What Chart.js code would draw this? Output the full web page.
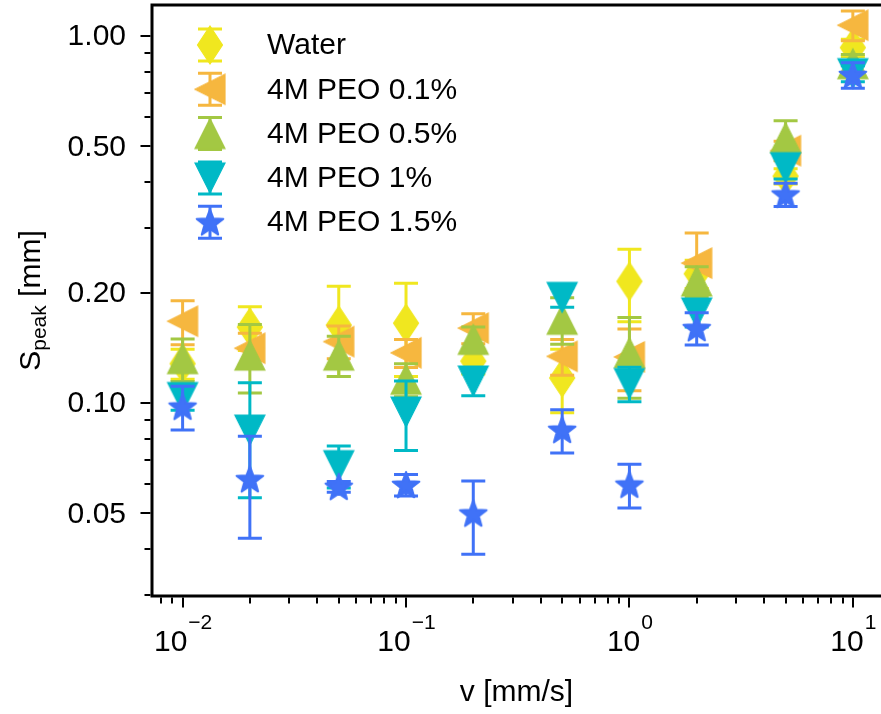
<!DOCTYPE html>
<html>
<head>
<meta charset="utf-8">
<script src="https://cdn.jsdelivr.net/npm/chart.js@4.4.1/dist/chart.umd.min.js"></script>
<style>
html,body{margin:0;padding:0;background:#ffffff;}
#wrap{width:881px;height:714px;position:relative;}
canvas{display:block;}
</style>
</head>
<body>
<div id="wrap"><canvas id="c" width="881" height="714"></canvas></div>
<script>
// ---------------- data ----------------
const velocity = [0.01, 0.02, 0.05, 0.1, 0.2, 0.5, 1, 2, 5, 10];
const seriesLabels = ['Water', '4M PEO 0.1%', '4M PEO 0.5%', '4M PEO 1%', '4M PEO 1.5%'];

const speakWater  = [0.128, 0.161, 0.163, 0.165, 0.130, 0.117, 0.2145, 0.225, 0.415, 0.930];
const errWater    = [0.012, 0.022, 0.045, 0.047, 0.010, 0.023, 0.048, 0.020, 0.020, 0.050];

const speakPeo01  = [0.167, 0.141, 0.147, 0.137, 0.160, 0.134, 0.1335, 0.2405, 0.487, 1.070];
const errPeo01    = [0.023, 0.014, 0.015, 0.012, 0.015, 0.015, 0.0255, 0.050, 0.030, 0.100];

const speakPeo05  = [0.132, 0.135, 0.135, 0.116, 0.149, 0.169, 0.137, 0.215, 0.528, 0.840];
const errPeo05    = [0.0175, 0.0285, 0.017, 0.012, 0.012, 0.0245, 0.034, 0.020, 0.060, 0.050];

const speakPeo1   = [0.1035, 0.0844, 0.0675, 0.0945, 0.1148, 0.194, 0.113, 0.176, 0.438, 0.790];
const errPeo1     = [0.008, 0.0292, 0.0088, 0.0203, 0.0101, 0.0117, 0.0122, 0.015, 0.030, 0.040];

const speakPeo15  = [0.0977, 0.062, 0.0591, 0.0598, 0.0500, 0.0845, 0.0599, 0.160, 0.370, 0.783];
const errPeo15    = [0.0133, 0.0192, 0.002, 0.004, 0.0113, 0.0114, 0.0082, 0.0162, 0.027, 0.063];

const yMajorTicks = [0.05, 0.1, 0.2, 0.5, 1];
const yTickLabels = ['0.05', '0.10', '0.20', '0.50', '1.00'];
const yMinorTicks = [0.03, 0.04, 0.06, 0.07, 0.08, 0.09, 0.3, 0.4, 0.6, 0.7, 0.8, 0.9];
const xMajorTicks = [0.01, 0.1, 1, 10];
const xTickExponents = ['\u22122', '\u22121', '0', '1'];
const xMinorTicks = [0.008, 0.009, 0.02, 0.03, 0.04, 0.05, 0.06, 0.07, 0.08, 0.09,
                     0.2, 0.3, 0.4, 0.5, 0.6, 0.7, 0.8, 0.9, 2, 3, 4, 5, 6, 7, 8, 9];
const xTitle = 'v [mm/s]';
const yTitleMain = 'S', yTitleSub = 'peak', yTitleUnit = ' [mm]';

// ---------------- styles ----------------
const colors = ['#F0E71F', '#F6B73F', '#A3C843', '#00B9C6', '#4072F7'];
const FONT = '"Liberation Sans", Arial, Helvetica, sans-serif';

function makeMarker(kind, color) {
  const c = document.createElement('canvas');
  c.width = 44; c.height = 44;
  const g = c.getContext('2d');
  g.translate(22, 22);
  g.fillStyle = color; g.strokeStyle = color; g.lineWidth = 1.2; g.lineJoin = 'miter';
  g.beginPath();
  if (kind === 'thinDiamond') {
    g.moveTo(0, -19); g.lineTo(12.5, 0); g.lineTo(0, 19); g.lineTo(-12.5, 0);
  } else if (kind === 'up') {
    g.moveTo(0, -15); g.lineTo(15, 15); g.lineTo(-15, 15);
  } else if (kind === 'down') {
    g.moveTo(0, 15); g.lineTo(15, -15); g.lineTo(-15, -15);
  } else if (kind === 'left') {
    g.moveTo(-15, 0); g.lineTo(15, -15); g.lineTo(15, 15);
  } else if (kind === 'star') {
    const R = 14, r = R * 0.42;
    for (let k = 0; k < 10; k++) {
      const rad = (k % 2 === 0) ? R : r;
      const a = -Math.PI / 2 + k * Math.PI / 5;
      const px = rad * Math.cos(a), py = rad * Math.sin(a) + 1;
      if (k === 0) g.moveTo(px, py); else g.lineTo(px, py);
    }
    g.lineJoin = 'round'; g.lineWidth = 2;
  }
  g.closePath(); g.fill(); g.stroke();
  return c;
}
const markerKinds = ['thinDiamond', 'left', 'up', 'down', 'star'];
const markers = markerKinds.map((k, i) => makeMarker(k, colors[i]));

const allY = [speakWater, speakPeo01, speakPeo05, speakPeo1, speakPeo15];
const allE = [errWater, errPeo01, errPeo05, errPeo1, errPeo15];

const datasets = seriesLabels.map((lab, i) => ({
  label: lab,
  data: velocity.map((v, j) => ({ x: v, y: allY[i][j], e: allE[i][j] })),
  pointStyle: markers[i],
  pointRadius: 14,
  backgroundColor: colors[i],
  borderColor: colors[i],
  showLine: false,
  order: seriesLabels.length - 1 - i
}));

// axis ranges (log), chosen to match the reference frame
const X_MIN = Math.pow(10, -2.137), X_MAX = Math.pow(10, 1.126);
const Y_MIN = Math.pow(10, -1.526), Y_MAX = Math.pow(10, 0.0845);

const CAP = 12, ELW = 3;

const errorBarPlugin = {
  id: 'errorBars',
  beforeDatasetDraw(chart, args) {
    const ds = chart.data.datasets[args.index];
    const xs = chart.scales.x, ys = chart.scales.y, ctx = chart.ctx;
    ctx.save();
    ctx.strokeStyle = ds.borderColor; ctx.lineWidth = ELW; ctx.lineCap = 'butt';
    ds.data.forEach(p => {
      const px = xs.getPixelForValue(p.x);
      const top = ys.getPixelForValue(p.y + p.e);
      const bot = ys.getPixelForValue(p.y - p.e);
      ctx.beginPath();
      ctx.moveTo(px, top); ctx.lineTo(px, bot);
      ctx.moveTo(px - CAP, top); ctx.lineTo(px + CAP, top);
      ctx.moveTo(px - CAP, bot); ctx.lineTo(px + CAP, bot);
      ctx.stroke();
    });
    ctx.restore();
  }
};

const axesPlugin = {
  id: 'axesFrame',
  afterDatasetsDraw(chart) {
    const ctx = chart.ctx, ca = chart.chartArea;
    const xs = chart.scales.x, ys = chart.scales.y;
    ctx.save();
    // spines
    ctx.strokeStyle = '#000'; ctx.lineWidth = 3; ctx.lineJoin = 'miter'; ctx.lineCap = 'butt';
    ctx.beginPath();
    ctx.moveTo(ca.right + 3, ca.top); ctx.lineTo(ca.left, ca.top);
    ctx.lineTo(ca.left, ca.bottom); ctx.lineTo(ca.right + 3, ca.bottom);
    ctx.stroke();
    // ticks
    ctx.lineWidth = 2;
    const MAJ = 10, MIN = 6;
    ctx.beginPath();
    yMajorTicks.forEach(v => { const y = Math.round(ys.getPixelForValue(v)); ctx.moveTo(ca.left - 1.5, y); ctx.lineTo(ca.left - 1.5 - MAJ, y); });
    yMinorTicks.forEach(v => { const y = Math.round(ys.getPixelForValue(v)); ctx.moveTo(ca.left - 1.5, y); ctx.lineTo(ca.left - 1.5 - MIN, y); });
    xMajorTicks.forEach(v => { const x = Math.round(xs.getPixelForValue(v)); ctx.moveTo(x, ca.bottom + 1.5); ctx.lineTo(x, ca.bottom + 1.5 + MAJ); });
    xMinorTicks.forEach(v => { const x = Math.round(xs.getPixelForValue(v)); ctx.moveTo(x, ca.bottom + 1.5); ctx.lineTo(x, ca.bottom + 1.5 + MIN); });
    ctx.stroke();
    // y tick labels
    ctx.fillStyle = '#000';
    ctx.font = '30px ' + FONT;
    ctx.textAlign = 'right'; ctx.textBaseline = 'middle';
    yMajorTicks.forEach((v, i) => { ctx.fillText(yTickLabels[i], ca.left - 26, ys.getPixelForValue(v) + 1); });
    // x tick labels with superscript
    ctx.textBaseline = 'alphabetic'; ctx.textAlign = 'left';
    xMajorTicks.forEach((v, i) => {
      const x = xs.getPixelForValue(v);
      ctx.font = '30px ' + FONT;
      const wb = ctx.measureText('10').width;
      ctx.font = '21px ' + FONT;
      const we = ctx.measureText(xTickExponents[i]).width;
      const x0 = x - (wb + we) / 2;
      ctx.font = '30px ' + FONT;
      ctx.fillText('10', x0, 651);
      ctx.font = '21px ' + FONT;
      ctx.fillText(xTickExponents[i], x0 + wb + 1, 629);
    });
    // x title
    ctx.font = '30px ' + FONT; ctx.textAlign = 'center';
    ctx.fillText(xTitle, (ca.left + ca.right) / 2, 701);
    // y title (rotated)
    ctx.save();
    ctx.translate(40, (ca.top + ca.bottom) / 2);
    ctx.rotate(-Math.PI / 2);
    ctx.font = '30px ' + FONT;
    const w1 = ctx.measureText(yTitleMain).width;
    const w3 = ctx.measureText(yTitleUnit).width;
    ctx.font = '21px ' + FONT;
    const w2 = ctx.measureText(yTitleSub).width;
    const total = w1 + w2 + w3;
    let xx = -total / 2;
    ctx.textAlign = 'left';
    ctx.font = '30px ' + FONT; ctx.fillText(yTitleMain, xx, 0); xx += w1;
    ctx.font = '21px ' + FONT; ctx.fillText(yTitleSub, xx, 6); xx += w2;
    ctx.font = '30px ' + FONT; ctx.fillText(yTitleUnit, xx, 0);
    ctx.restore();
    // legend
    const LX = 210, TX = 267, LY0 = 45, DY = 44.3;
    seriesLabels.forEach((lab, i) => {
      const cy = LY0 + i * DY;
      ctx.strokeStyle = colors[i]; ctx.lineWidth = ELW;
      ctx.beginPath();
      ctx.moveTo(LX, cy - 16); ctx.lineTo(LX, cy + 16);
      ctx.moveTo(LX - CAP, cy - 16); ctx.lineTo(LX + CAP, cy - 16);
      ctx.moveTo(LX - CAP, cy + 16); ctx.lineTo(LX + CAP, cy + 16);
      ctx.stroke();
      ctx.drawImage(markers[i], LX - markers[i].width / 2, cy - markers[i].height / 2);
      ctx.fillStyle = '#000'; ctx.font = '30px ' + FONT;
      ctx.textAlign = 'left'; ctx.textBaseline = 'middle';
      ctx.fillText(lab, TX, cy + 1);
    });
    ctx.restore();
  }
};

new Chart(document.getElementById('c').getContext('2d'), {
  type: 'scatter',
  data: { datasets },
  options: {
    responsive: false,
    animation: false,
    devicePixelRatio: 1,
    events: [],
    layout: { autoPadding: false, padding: { top: 5, left: 0, right: 0, bottom: 0 } },
    plugins: { legend: { display: false }, tooltip: { enabled: false } },
    scales: {
      x: {
        type: 'logarithmic', min: X_MIN, max: X_MAX,
        ticks: { display: false }, grid: { display: false }, border: { display: false },
        afterFit(s) { s.height = 118; }
      },
      y: {
        type: 'logarithmic', min: Y_MIN, max: Y_MAX,
        ticks: { display: false }, grid: { display: false }, border: { display: false },
        afterFit(s) { s.width = 152; }
      }
    }
  },
  plugins: [errorBarPlugin, axesPlugin]
});
</script>
</body>
</html>
